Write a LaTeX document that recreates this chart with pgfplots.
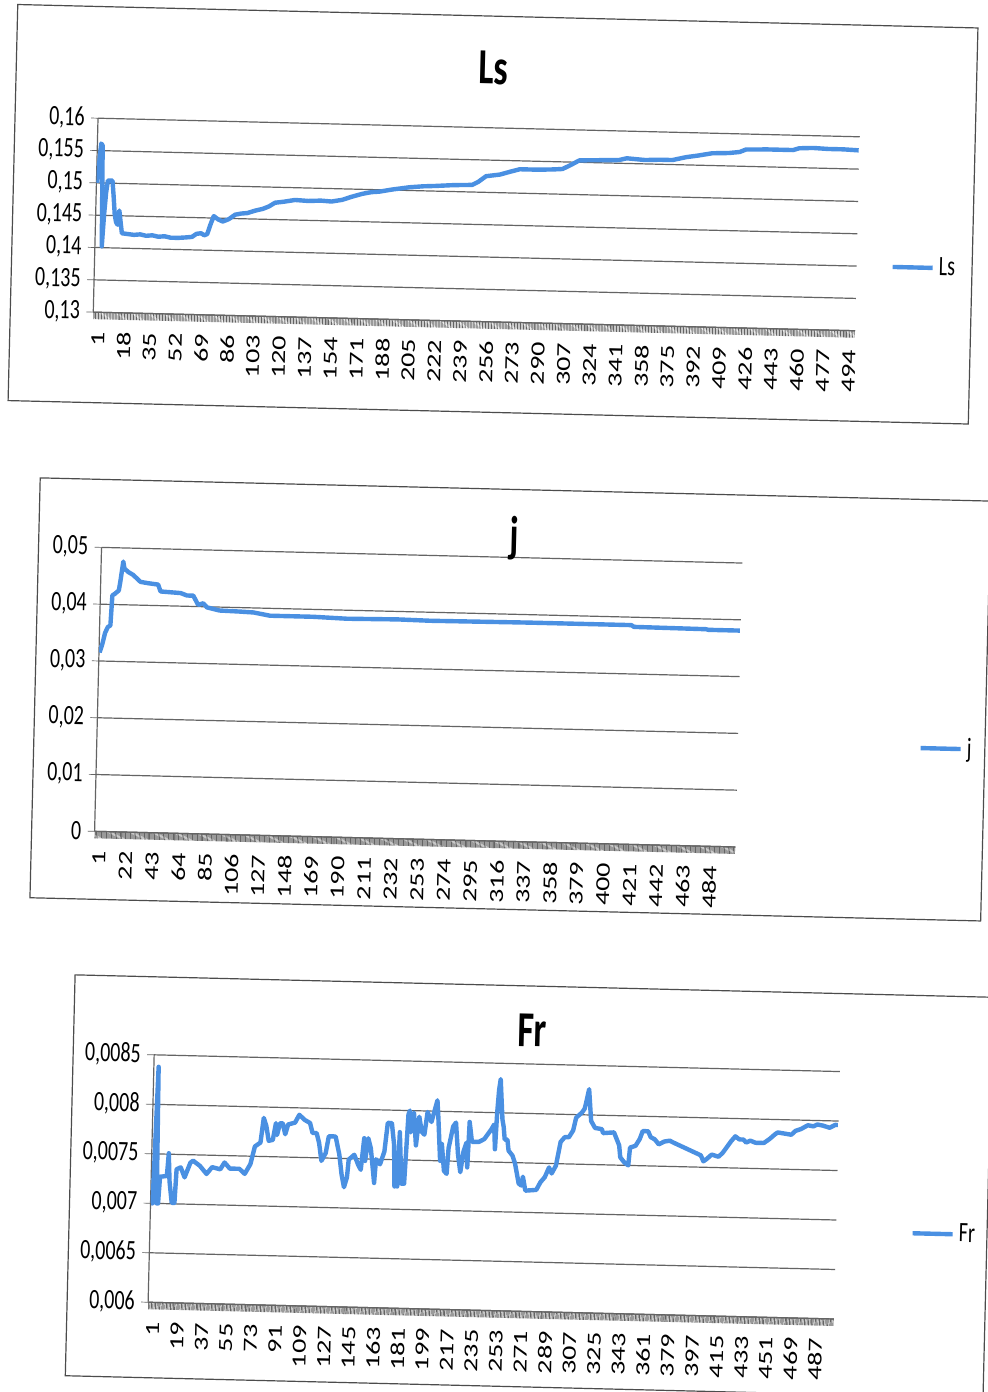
\documentclass[border=0pt]{standalone}
\usepackage{fontspec}
\setmainfont{Carlito}
\usepackage{graphicx}
\usepackage{pgfplots}
\pgfplotsset{compat=1.18}
\definecolor{serie}{RGB}{74,144,226}
\definecolor{gridc}{RGB}{100,100,100}
\newcommand\sy[1]{\scalebox{1}[1.4]{#1}}
\newcommand\sx[1]{\scalebox{1.4}[1]{#1}}
\newcommand\lab{\fontsize{10}{12}\selectfont}
\newcommand\ttl{\bfseries\fontsize{18}{21}\selectfont}
\tikzset{ser/.style={draw=serie, line width=2.2pt, line join=round, mark=none}}
\pgfplotsset{
  excel/.style={
    scale only axis, anchor=south west,
    axis x line*=bottom, axis y line*=left,
    axis line style={draw=gridc, line width=0.6pt},
    ymajorgrids, grid style={draw=gridc, line width=0.6pt},
    tick align=outside,
    major tick length=3.5pt, minor tick length=3.5pt,
    tick style={draw=gridc, line width=0.35pt},
    minor tick style={draw=gridc, line width=0.35pt},
    scaled y ticks=false, scaled x ticks=false,
    xticklabel style={xshift=2.2pt, rotate=90, anchor=east, font=\lab, inner sep=0pt},
    yticklabel style={anchor=east, font=\lab, inner sep=0pt},
    xticklabel={\sx{\pgfmathprintnumber[assume math mode=true]{\tick}}},
    xticklabel shift=6pt, yticklabel shift=3pt,
    every axis title shift=0pt,
    title style={font=\ttl, anchor=center, inner sep=0pt},
    legend style={draw=none, fill=none, anchor=west, inner sep=0pt, font=\lab, nodes={inner sep=0pt}},
    legend image code/.code={\draw[##1] (0pt,0pt) -- (20pt,0pt);},
  }
}
\begin{document}
\begin{tikzpicture}
\useasboundingbox (0pt,0pt) rectangle (493.5pt,-696pt);
\fill[white] (0pt,0pt) rectangle (493.5pt,-696pt);
\begin{scope}[transform canvas={rotate around={-1.4:(246.75pt,-348pt)}}]
\draw[black!70, line width=0.6pt] (0.5pt,-8.15pt) rectangle (480.75pt,-206.25pt);
\draw[black!70, line width=0.6pt] (17.5pt,-244.5pt) rectangle (493pt,-454.5pt);
\draw[black!70, line width=0.6pt] (41pt,-492.5pt) rectangle (500pt,-693pt);

% ---------- Ls ----------
\begin{axis}[excel,
  at={(42pt,-161pt)}, width=381pt, height=97pt,
  xmin=0.5, xmax=500.5, ymin=0.13, ymax=0.16,
  xtick={1,18,...,494}, minor xtick={1,...,500},
  ytick={0.13,0.135,0.14,0.145,0.15,0.155,0.16},
  yticklabels={\sy{0,13},\sy{0,135},\sy{0,14},\sy{0,145},\sy{0,15},\sy{0,155},\sy{0,16}},
  title={\sy{Ls}}, title style={at={(0.517,1.309)}},
  legend style={at={(1.044,0.3335)}},
]
\addplot[ser] coordinates {(1,0.1500) (3,0.1561) (4,0.1558) (5,0.1402) (6,0.1450) (7,0.1485) (8,0.1504) (11,0.1504) (12,0.1480) (13,0.1452) (14,0.1440) (15,0.1436) (16,0.1458) (17,0.1440) (18,0.1423) (22,0.1422) (26,0.1421) (30,0.1422) (34,0.1420) (38,0.1421) (42,0.1419) (46,0.1420) (50,0.1418) (55,0.1418) (60,0.1419) (64,0.1420) (67,0.1425) (70,0.1426) (72,0.1423) (74,0.1425) (76,0.1440) (78,0.1453) (81,0.1448) (84,0.1445) (88,0.1449) (92,0.1456) (96,0.1458) (100,0.1459) (105,0.1463) (110,0.1466) (114,0.1470) (118,0.1476) (124,0.1478) (131,0.1481) (140,0.1480) (148,0.1481) (155,0.1480) (162,0.1483) (168,0.1488) (175,0.1493) (181,0.1496) (186,0.1497) (195,0.1501) (206,0.1505) (215,0.1507) (223,0.1508) (235,0.1510) (247,0.1511) (251,0.1516) (256,0.1525) (265,0.1528) (272,0.1533) (278,0.1537) (290,0.1537) (300,0.1538) (306,0.1539) (311,0.1545) (317,0.1553) (330,0.1554) (343,0.1555) (348,0.1558) (360,0.1556) (370,0.1557) (378,0.1557) (387,0.1562) (395,0.1565) (404,0.1569) (415,0.1570) (422,0.1572) (426,0.1576) (440,0.1577) (457,0.1577) (461,0.1580) (470,0.1581) (480,0.1580) (490,0.1580) (500,0.1579)};
\addlegendentry{\hspace{2pt}\sy{Ls}}
\end{axis}

% ---------- j ----------
\begin{axis}[excel,
  at={(49pt,-420.5pt)}, width=320.5pt, height=142pt,
  xmin=0.5, xmax=507.5, ymin=0, ymax=0.05,
  xtick={1,22,...,484}, minor xtick={1,...,507},
  ytick={0,0.01,0.02,0.03,0.04,0.05},
  yticklabels={\sy{0},\sy{0,01},\sy{0,02},\sy{0,03},\sy{0,04},\sy{0,05}},
  title={\sy{j}}, title style={at={(0.644,1.069)}},
  legend style={at={(1.281,0.364)}},
]
\addplot[ser] coordinates {(1,0.0315) (3,0.0330) (5,0.0350) (7,0.0360) (9,0.0363) (10,0.0416) (12,0.0419) (15,0.0425) (16,0.0440) (18,0.0476) (19,0.0464) (22,0.0458) (26,0.0453) (32,0.0441) (38,0.0439) (46,0.0437) (48,0.0425) (56,0.0424) (64,0.0423) (69,0.0419) (74,0.0419) (78,0.0403) (82,0.0406) (85,0.0399) (95,0.0394) (111,0.0393) (122,0.0392) (135,0.0387) (169,0.0387) (196,0.0385) (236,0.0386) (262,0.0385) (340,0.0386) (421,0.0386) (423,0.0383) (480,0.0382) (482,0.0381) (507,0.0381)};
\addlegendentry{\hspace{2pt}\sy{j}}
\end{axis}

% ---------- Fr ----------
\begin{axis}[excel,
  at={(81.5pt,-655.25pt)}, width=343pt, height=123.75pt,
  xmin=0.5, xmax=503.5, ymin=0.006, ymax=0.0085,
  xtick={1,19,...,487}, minor xtick={1,...,503},
  ytick={0.006,0.0065,0.007,0.0075,0.008,0.0085},
  yticklabels={\sy{0,006},\sy{0,0065},\sy{0,007},\sy{0,0075},\sy{0,008},\sy{0,0085}},
  title={\sy{Fr}}, title style={at={(0.55,1.137)}},
  legend style={at={(1.108,0.354)}},
]
\addplot[ser] coordinates {(1,0.00700) (2,0.00700) (4,0.00838) (5,0.00700) (6,0.00700) (7,0.00727) (12,0.00728) (13,0.00751) (14,0.00723) (16,0.00701) (18,0.00701) (19,0.00735) (22,0.00737) (25,0.00727) (29,0.00742) (31,0.00744) (36,0.00739) (41,0.00731) (45,0.00738) (51,0.00736) (54,0.00743) (58,0.00737) (65,0.00737) (69,0.00732) (73,0.00742) (76,0.00760) (80,0.00764) (82,0.00789) (84,0.00781) (86,0.00766) (89,0.00767) (91,0.00784) (92,0.00772) (94,0.00784) (96,0.00784) (98,0.00773) (100,0.00783) (105,0.00785) (108,0.00793) (112,0.00788) (116,0.00785) (118,0.00775) (121,0.00775) (123,0.00765) (125,0.00747) (128,0.00755) (130,0.00772) (135,0.00772) (138,0.00754) (140,0.00734) (142,0.00721) (144,0.00731) (145,0.00749) (149,0.00754) (152,0.00744) (154,0.00739) (156,0.00771) (157,0.00748) (159,0.00771) (161,0.00761) (163,0.00738) (164,0.00726) (165,0.00750) (168,0.00745) (171,0.00758) (173,0.00787) (176,0.00787) (178,0.00765) (179,0.00723) (180,0.00738) (181,0.00723) (182,0.00778) (184,0.00726) (186,0.00726) (188,0.00796) (189,0.00800) (190,0.00778) (192,0.00798) (194,0.00765) (196,0.00794) (198,0.00779) (200,0.00776) (202,0.00799) (205,0.00789) (207,0.00800) (209,0.00811) (210,0.00793) (212,0.00750) (213,0.00767) (215,0.00740) (217,0.00737) (218,0.00763) (221,0.00785) (223,0.00789) (225,0.00757) (227,0.00739) (229,0.00760) (231,0.00769) (232,0.00744) (233,0.00790) (235,0.00770) (240,0.00770) (244,0.00773) (249,0.00783) (251,0.00788) (252,0.00763) (253,0.00800) (254,0.00823) (255,0.00834) (256,0.00813) (257,0.00793) (258,0.00786) (259,0.00773) (261,0.00773) (262,0.00762) (265,0.00757) (267,0.00749) (270,0.00729) (272,0.00727) (273,0.00736) (275,0.00722) (283,0.00723) (286,0.00731) (289,0.00736) (292,0.00746) (294,0.00740) (297,0.00748) (300,0.00772) (303,0.00777) (306,0.00777) (309,0.00784) (311,0.00797) (315,0.00802) (317,0.00806) (318,0.00812) (320,0.00826) (322,0.00794) (325,0.00787) (330,0.00786) (331,0.00782) (339,0.00783) (343,0.00770) (344,0.00758) (347,0.00753) (350,0.00750) (351,0.00768) (355,0.00770) (358,0.00777) (360,0.00785) (364,0.00785) (366,0.00779) (369,0.00777) (372,0.00772) (376,0.00775) (380,0.00776) (383,0.00774) (388,0.00771) (393,0.00768) (398,0.00765) (403,0.00762) (405,0.00756) (407,0.00758) (411,0.00763) (416,0.00761) (419,0.00765) (425,0.00777) (428,0.00782) (431,0.00779) (434,0.00779) (436,0.00776) (439,0.00778) (443,0.00776) (449,0.00776) (453,0.00780) (457,0.00785) (459,0.00787) (464,0.00786) (469,0.00785) (472,0.00789) (476,0.00791) (481,0.00795) (485,0.00794) (488,0.00796) (492,0.00795) (497,0.00793) (501,0.00796) (503,0.00796)};
\addlegendentry{\hspace{2pt}\sy{Fr}}
\end{axis}
\end{scope}
\end{tikzpicture}
\end{document}
